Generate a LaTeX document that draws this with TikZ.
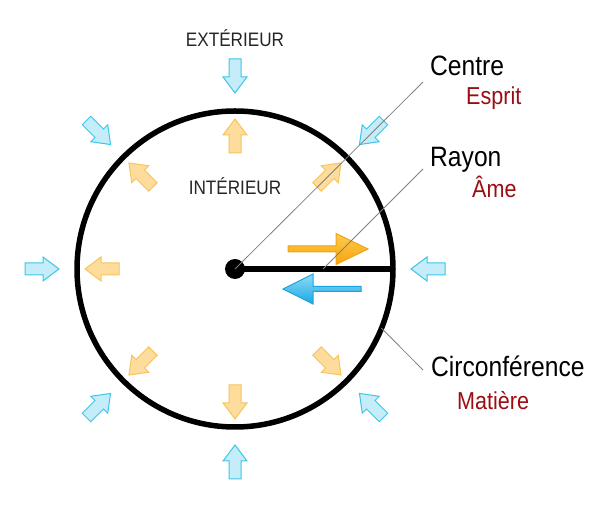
\documentclass[tikz,border=0pt]{standalone}
\usepackage{fontspec}
\setmainfont[FakeStretch=0.88]{Liberation Sans}
\usetikzlibrary{calc}

\definecolor{orangeclair}{HTML}{FDDC9C}
\definecolor{orangebord}{HTML}{F7C45E}
\definecolor{bleuclair}{HTML}{C4ECF9}
\definecolor{bleubord}{HTML}{3CC6E8}
\definecolor{rougefonce}{HTML}{9B0D13}
\definecolor{grisfonce}{HTML}{252525}
\definecolor{orangehaut}{HTML}{FFCB50}
\definecolor{orangebas}{HTML}{F6A40C}
\definecolor{orangetrait}{HTML}{F2A214}
\definecolor{bleuhaut}{HTML}{8FDAF7}
\definecolor{bleubas}{HTML}{1AA8E4}
\definecolor{bleutrait}{HTML}{18A6E2}

\begin{document}
\begin{tikzpicture}[x=1pt,y=1pt,
    bloc/.pic={\path[pic actions] (0,-6) -- (18,-6) -- (18,-12) -- (34,0) -- (18,12) -- (18,6) -- (0,6) -- cycle;},
    interieur/.style={fill=orangeclair,draw=orangebord,line width=1pt},
    exterieur/.style={fill=bleuclair,draw=bleubord,line width=1pt},
    etiquette/.style={anchor=base west,inner sep=0pt,font=\fontsize{28}{31}\selectfont},
    sousetiquette/.style={anchor=base west,inner sep=0pt,text=rougefonce,font=\fontsize{24.5}{28}\selectfont},
    zone/.style={anchor=base,inner sep=0pt,text=grisfonce,font=\fontsize{19.5}{22}\selectfont},
    fil/.style={gray,line width=0.8pt}]
    \useasboundingbox (0,0) rectangle (600,511);
    %%%%% THE CIRCLE
    \node[draw,circle,line width=5.5pt,minimum size=316pt,inner sep=0pt] (CERCLE) at (235,242) {};
    \node[circle,fill=black,minimum size=20pt,inner sep=0pt] (POINT) at (CERCLE.center) {};
    \draw[line width=5.5pt] (POINT.center) -- (CERCLE.center -| 393,0);
    \coordinate (PIED) at ($(POINT.center)+(88,0)$);
    %%%%% SMALL ARROWS
    \foreach \a in {45,90,...,315}
      \pic[interieur,rotate=\a] at ([shift={(\a:116)}]CERCLE.center) {bloc};
    \foreach \a in {0,45,...,315}
      \pic[exterieur,rotate=\a+180] at ([shift={(\a:210)}]CERCLE.center) {bloc};
    %%%%% BIG ARROWS
    \draw[line width=1pt,draw=orangetrait,top color=orangehaut,bottom color=orangebas]
      (288,259) -- (336,259) -- (336,246.5) -- (368,262) -- (336,277.5) -- (336,265) -- (288,265) -- cycle;
    \draw[line width=1pt,draw=bleutrait,top color=bleuhaut,bottom color=bleubas]
      (361,219.5) -- (313,219.5) -- (313,207) -- (283,222) -- (313,237) -- (313,224.5) -- (361,224.5) -- cycle;
    %%%%% TEXTS
    \node[zone] (EXT) at (235,464) {EXTÉRIEUR};
    \node[zone] (INT) at (235,316) {INTÉRIEUR};
    \node[etiquette] (CENTRE) at (430,435) {Centre};
    \node[sousetiquette] (ESPRIT) at (466,406) {Esprit};
    \node[etiquette] (RAYON) at (430,344) {Rayon};
    \node[sousetiquette] (AME) at (472,313) {Âme};
    \node[etiquette] (CIRC) at (431,134) {Circonférence};
    \node[sousetiquette] (MATIERE) at (457,101) {Matière};
    %%%% LINKS FROM THE TEXTS
    \draw[fil] (POINT.center) -- ($(CENTRE.base west)+(-7,-6)$);
    \draw[fil] (PIED) -- ($(RAYON.base west)+(-7,-2)$);
    \draw[fil] ([shift={(-22:158)}]CERCLE.center) -- ($(CIRC.base west)+(-8,7)$);
  \end{tikzpicture}
\end{document}
